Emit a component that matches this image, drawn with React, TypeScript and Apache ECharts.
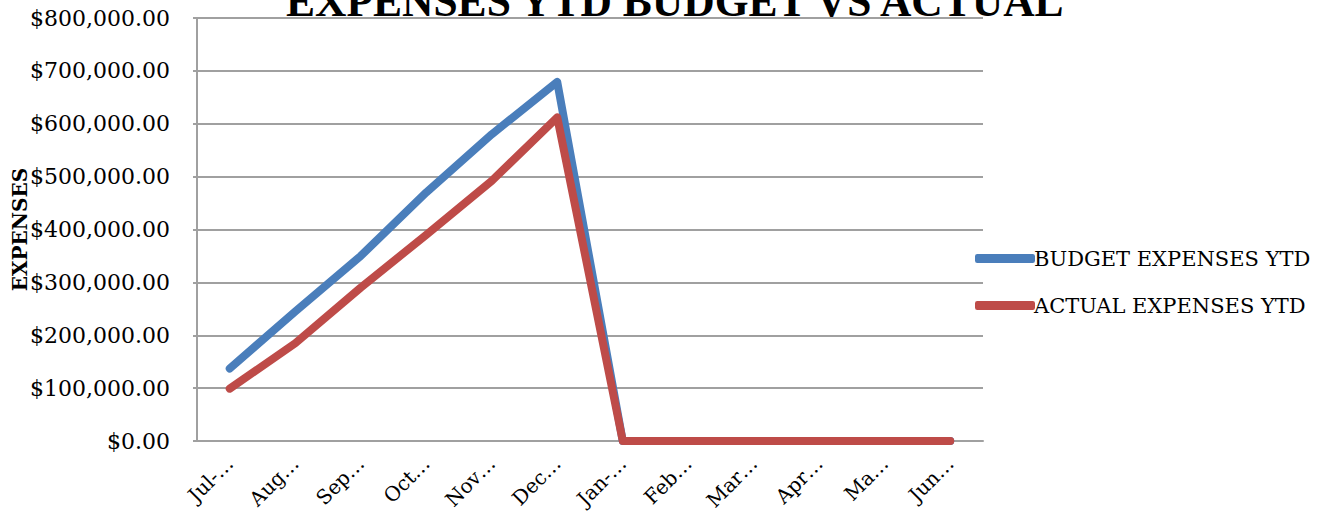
import React, { useEffect, useRef } from "react";
import * as echarts from "echarts";

const categories = ["Jul-…", "Aug…", "Sep…", "Oct…", "Nov…", "Dec…", "Jan-…", "Feb…", "Mar…", "Apr…", "Ma…", "Jun…"];
const budgetYTD = [137000, 245000, 350000, 470000, 580000, 679000, 0, 0, 0, 0, 0, 0];
const actualYTD = [99000, 185000, 290000, 390000, 492000, 612000, 0, 0, 0, 0, 0, 0];
const seriesNames = ["BUDGET EXPENSES YTD", "ACTUAL EXPENSES YTD"];
const titleText = "EXPENSES YTD BUDGET VS ACTUAL";
const axisName = "EXPENSES";

const serif = "'DejaVu Serif', serif";

function fmt(v: number): string {
  const s = Math.round(v).toString().replace(/\B(?=(\d{3})+(?!\d))/g, ",");
  return "$" + s + ".00";
}

export default function App() {
  const ref = useRef<HTMLDivElement>(null);
  useEffect(() => {
    if (!ref.current) return;
    const chart = echarts.init(ref.current, undefined, { renderer: "svg" });
    chart.setOption({
      animation: false,
      backgroundColor: "#ffffff",
      title: {
        text: titleText,
        left: 281,
        top: -26,
        textStyle: { fontFamily: "'Liberation Serif', serif", fontWeight: "bold", fontSize: 43.5, color: "#000" },
      },
      grid: { left: 197, right: 336, top: 18, bottom: 70, containLabel: false, outerBoundsMode: "none" },
      legend: {
        orient: "vertical",
        left: 970,
        top: 243,
        itemWidth: 60,
        itemHeight: 9,
        itemGap: 26,
        icon: "roundRect",
        textStyle: { fontFamily: serif, fontSize: 21, color: "#000", padding: [0, 0, 0, -6] },
        data: seriesNames,
      },
      xAxis: {
        type: "category",
        data: categories,
        boundaryGap: true,
        axisLine: { lineStyle: { color: "#a0a0a0", width: 2 } },
        axisTick: { show: false },
        axisLabel: { rotate: 45, margin: 19, fontFamily: serif, fontSize: 20, color: "#000", interval: 0 },
      },
      yAxis: {
        type: "value",
        min: 0,
        max: 800000,
        interval: 100000,
        name: axisName,
        nameLocation: "middle",
        nameGap: 167,
        nameMoveOverlap: false,
        nameTextStyle: { fontFamily: serif, fontWeight: "bold", fontSize: 20, color: "#000" },
        axisLine: { show: true, lineStyle: { color: "#a0a0a0", width: 2 } },
        axisTick: { show: true, length: 4, lineStyle: { color: "#a0a0a0", width: 2 } },
        splitLine: { lineStyle: { color: "#a0a0a0", width: 2 } },
        axisLabel: { margin: 27, fontFamily: serif, fontSize: 22, color: "#000", formatter: (v: number) => fmt(v) },
      },
      series: [
        {
          name: seriesNames[0],
          type: "line",
          data: budgetYTD,
          symbol: "none",
          color: "#4A7EBB",
          lineStyle: { width: 8, color: "#4A7EBB", cap: "round", join: "round" },
        },
        {
          name: seriesNames[1],
          type: "line",
          data: actualYTD,
          symbol: "none",
          color: "#BE4B48",
          lineStyle: { width: 8, color: "#BE4B48", cap: "round", join: "round" },
        },
      ],
    });
    return () => chart.dispose();
  }, []);
  return <div ref={ref} style={{ position: "fixed", left: 0, top: 0, width: 1319, height: 511 }} />;
}
